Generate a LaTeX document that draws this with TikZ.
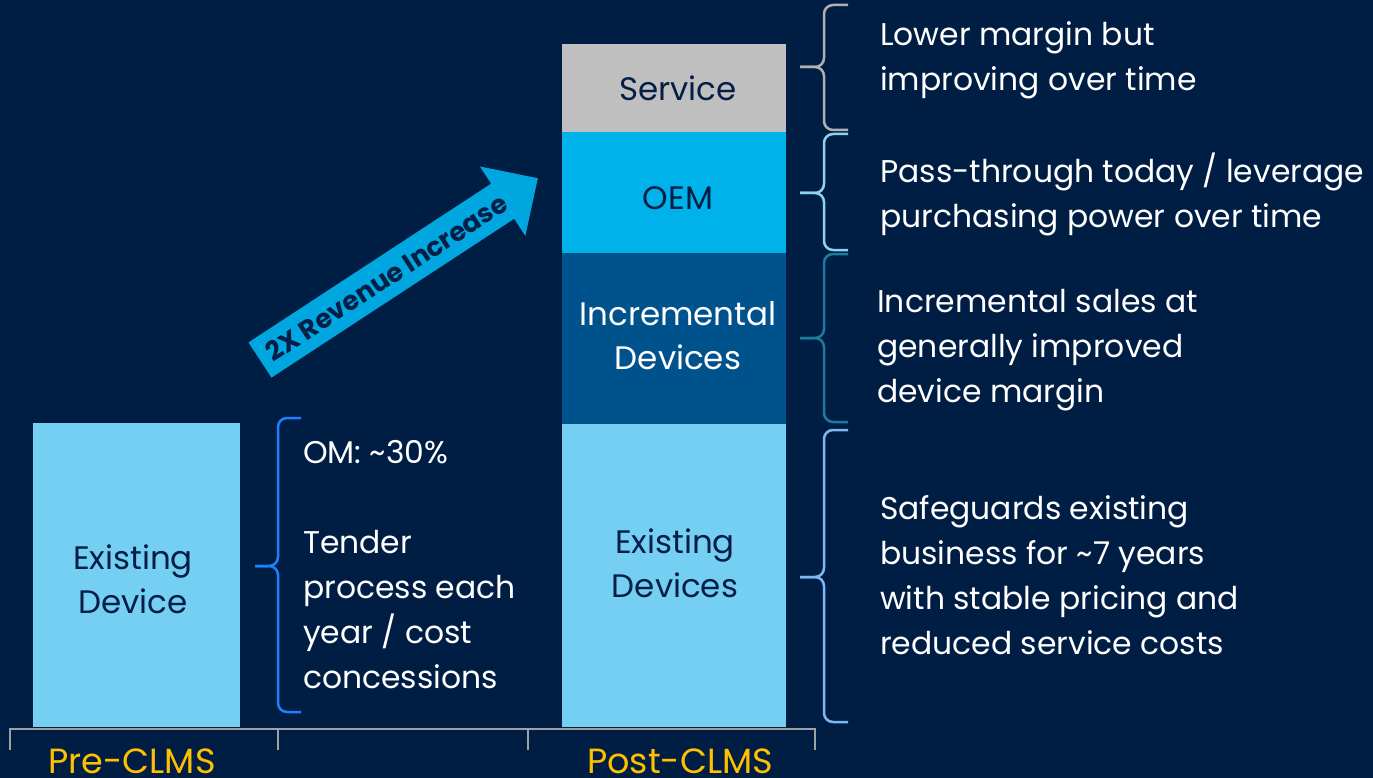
\documentclass[tikz,border=0pt]{standalone}
\usepackage{fontspec}
\setmainfont{Poppins}
\definecolor{bg}{RGB}{0,30,68}
\definecolor{navy}{RGB}{5,30,70}
\definecolor{lightb}{RGB}{117,207,243}
\definecolor{oemc}{RGB}{0,178,234}
\definecolor{incc}{RGB}{0,82,140}
\definecolor{servc}{RGB}{191,191,191}
\definecolor{arrc}{RGB}{0,166,223}
\definecolor{gold}{RGB}{255,192,0}
\definecolor{axisc}{RGB}{160,160,160}
\definecolor{bleft}{RGB}{31,127,255}
\definecolor{bserv}{RGB}{176,176,176}
\definecolor{boem}{RGB}{141,211,240}
\definecolor{binc}{RGB}{29,124,156}
\definecolor{bexist}{RGB}{125,184,245}
\tikzset{
  txt/.style={inner sep=0pt, align=left, text=white, font=\fontsize{31.4}{45}\selectfont},
  bartxt/.style={inner sep=0pt, align=center, font=\fontsize{32.5}{44}\selectfont},
  axlbl/.style={inner sep=0pt, anchor=base, text=gold, font=\fontsize{35}{40}\selectfont},
  brc/.style={line width=2.5pt, rounded corners=9pt},
}
% #1 colour, #2 end x, #3 spine x, #4 tip x, #5 top y, #6 mid y, #7 bottom y
\newcommand{\vbrace}[7]{%
  \draw[brc, #1] (#2,#5) -- (#3,#5) -- (#3,#6) -- (#4,#6);
  \draw[brc, #1] (#2,#7) -- (#3,#7) -- (#3,#6) -- (#4,#6);}
\begin{document}
\begin{tikzpicture}[x=1pt,y=-1pt]
\fill[bg] (0,0) rectangle (1373,778);
\useasboundingbox (0,0) rectangle (1373,778);
% bars
\fill[lightb] (33,423) rectangle (240,727);
\fill[servc] (562,44) rectangle (786,132);
\fill[oemc] (562,132) rectangle (786,253);
\fill[incc] (562,253) rectangle (786,424);
\fill[lightb] (562,424) rectangle (786,727);
\node[bartxt, text=navy] (exd) at (133,579) {Existing\\Device};
\node[bartxt, text=navy] (serv) at (678,88) {Service};
\node[bartxt, text=navy] (oem) at (678,198) {OEM};
\node[bartxt, text=white] (inc) at (678,336) {Incremental\\Devices};
\node[bartxt, text=navy] (exds) at (675,563) {Existing\\Devices};
% axis
\draw[axisc, line width=2pt] (10,750) -- (10,729) -- (815,729) -- (815,750);
\draw[axisc, line width=2pt] (278,729) -- (278,750);
\draw[axisc, line width=2pt] (528,729) -- (528,750);
\node[axlbl] (pre) at (132,773) {Pre-CLMS};
\node[axlbl] (post) at (680,773) {Post-CLMS};
% braces
\vbrace{bleft}{301}{278}{255}{418}{566}{712}
\vbrace{bserv}{848}{824}{800}{5}{67}{130}
\vbrace{boem}{848}{824}{800}{134}{193}{250}
\vbrace{binc}{848}{824}{800}{254}{338}{422}
\vbrace{bexist}{848}{824}{800}{430}{577}{722}
% side texts
\node[txt, anchor=west] (lt) at (303,565) {OM: \textasciitilde30\%\\[45pt]Tender\\process each\\year / cost\\concessions};
\node[txt, anchor=west] (t1) at (880,60) {Lower margin but\\improving over time};
\node[txt, anchor=west] (t2) at (880,194) {Pass-through today / leverage\\purchasing power over time};
\node[txt, anchor=west] (t3) at (877,350) {Incremental sales at\\generally improved\\device margin};
\node[txt, anchor=west] (t4) at (880,575) {Safeguards existing\\business for \textasciitilde7 years\\with stable pricing and\\reduced service costs};
% arrow
\begin{scope}[shift={(260,360)}, rotate=33.2]
\fill[arrc] (0pt,-21pt) -- (290pt,-21pt) -- (290pt,-41.5pt) -- (332pt,0pt) -- (290pt,41.5pt) -- (290pt,21pt) -- (0pt,21pt) -- cycle;
\node[inner sep=0pt, rotate=33.2, text=navy, font=\bfseries\fontsize{26.5}{30}\selectfont] (arrtxt) at (151pt,0pt) {2X Revenue Increase};
\end{scope}
\end{tikzpicture}
\end{document}
